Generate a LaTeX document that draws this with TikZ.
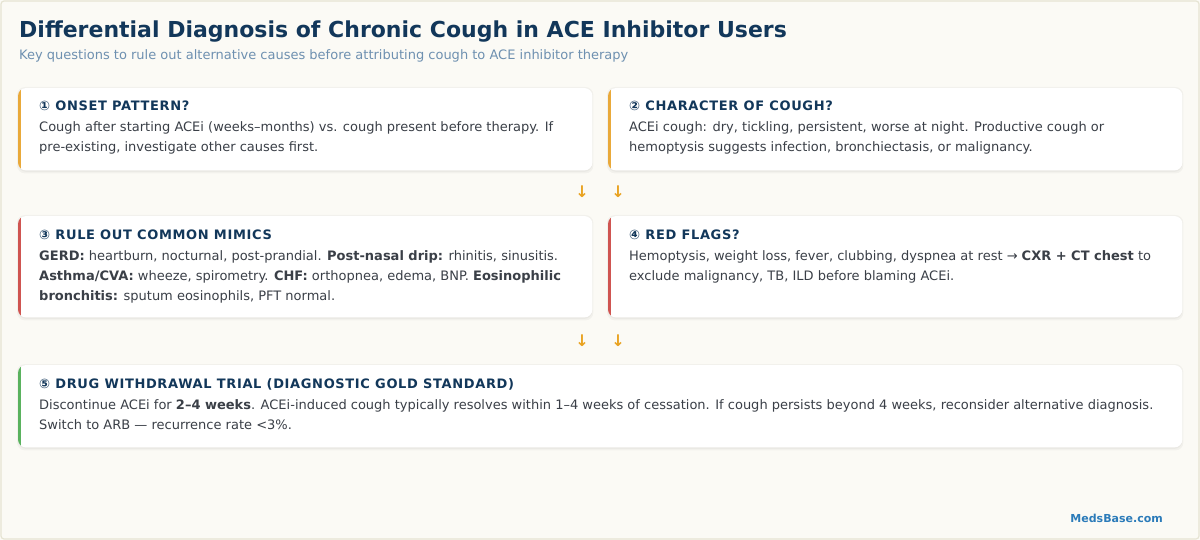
\documentclass[tikz,border=0pt]{standalone}
\usepackage{fontspec}
\setmainfont{DejaVu Sans}
\newfontfamily\hdrfont[LetterSpace=5]{DejaVu Sans}
\definecolor{bgc}{HTML}{FBFAF5}
\definecolor{framec}{HTML}{E6E4D3}
\definecolor{titlec}{HTML}{12375A}
\definecolor{subc}{HTML}{6E90B0}
\definecolor{bodyc}{HTML}{3A3F47}
\definecolor{orangec}{HTML}{E9A93A}
\definecolor{redc}{HTML}{CF5551}
\definecolor{greenc}{HTML}{5AB25E}
\definecolor{arrowc}{HTML}{E9A21F}
\definecolor{footc}{HTML}{2B7BB9}
\newcommand{\mkcard}[2]{%
  \fill[black,opacity=0.035,rounded corners=8pt] ([xshift=-1pt,yshift=1pt]#1.north west) rectangle ([xshift=1pt,yshift=-3pt]#1.south east);
  \fill[black,opacity=0.03,rounded corners=8pt] ([yshift=0pt]#1.north west) rectangle ([yshift=-1.5pt]#1.south east);
  \fill[white,rounded corners=8pt] (#1.north west) rectangle (#1.south east);
  \begin{scope}
    \clip[rounded corners=8pt] (#1.north west) rectangle (#1.south east);
    \fill[#2] (#1.north west) rectangle ([xshift=3pt]#1.south west);
  \end{scope}}
\begin{document}
\begin{tikzpicture}[x=1pt,y=-1pt,
  box/.style={draw=none,inner sep=0pt,anchor=north west,rectangle},
  hdr/.style={anchor=base west,inner sep=0pt,text=titlec,font=\hdrfont\bfseries\fontsize{13}{16}\selectfont},
  bodyl/.style={anchor=base west,inner sep=0pt,text=bodyc,font=\fontsize{13}{16}\selectfont},
  dnarrow/.style={inner sep=0pt,text=arrowc,font=\bfseries\fontsize{16}{18}\selectfont}]
\useasboundingbox (0,0) rectangle (1200,540);
\fill[bgc] (0,0) rectangle (1200,540);
\draw[framec,line width=1.2pt,rounded corners=3pt] (1,1) rectangle (1199,539);

% title
\node[anchor=base west,inner sep=0pt,text=titlec,font=\bfseries\fontsize{22}{26}\selectfont] (title) at (19,38) {Differential Diagnosis of Chronic Cough in ACE Inhibitor Users};
\node[anchor=base west,inner sep=0pt,text=subc,font=\fontsize{13}{16}\selectfont] (sub) at (19,60) {Key questions to rule out alternative causes before attributing cough to ACE inhibitor therapy};

% cards
\path node[box,minimum width=574pt,minimum height=82pt] (c1) at (18,88) {};
\path node[box,minimum width=574pt,minimum height=82pt] (c2) at (608,88) {};
\path node[box,minimum width=574pt,minimum height=101pt] (c3) at (18,216) {};
\path node[box,minimum width=574pt,minimum height=101pt] (c4) at (608,216) {};
\path node[box,minimum width=1164pt,minimum height=82pt] (c5) at (18,365) {};
\mkcard{c1}{orangec}
\mkcard{c2}{orangec}
\mkcard{c3}{redc}
\mkcard{c4}{redc}
\mkcard{c5}{greenc}

% card 1
\node[hdr] (h1) at ([xshift=21pt,yshift=-22.5pt]c1.north west) {① ONSET PATTERN?};
\node[bodyl] (b1a) at ([xshift=21pt,yshift=-44pt]c1.north west) {Cough after starting ACEi (weeks–months) vs. cough present before therapy. If};
\node[bodyl] (b1b) at ([xshift=21pt,yshift=-64pt]c1.north west) {pre-existing, investigate other causes first.};

% card 2
\node[hdr] (h2) at ([xshift=21pt,yshift=-22.5pt]c2.north west) {② CHARACTER OF COUGH?};
\node[bodyl] (b2a) at ([xshift=21pt,yshift=-44pt]c2.north west) {ACEi cough: dry, tickling, persistent, worse at night. Productive cough or};
\node[bodyl] (b2b) at ([xshift=21pt,yshift=-64pt]c2.north west) {hemoptysis suggests infection, bronchiectasis, or malignancy.};

% card 3
\node[hdr] (h3) at ([xshift=21pt,yshift=-23.5pt]c3.north west) {③ RULE OUT COMMON MIMICS};
\node[bodyl] (b3a) at ([xshift=21pt,yshift=-45pt]c3.north west) {\textbf{GERD:} heartburn, nocturnal, post-prandial. \textbf{Post-nasal drip:} rhinitis, sinusitis.};
\node[bodyl] (b3b) at ([xshift=21pt,yshift=-64.5pt]c3.north west) {\textbf{Asthma/CVA:} wheeze, spirometry. \textbf{CHF:} orthopnea, edema, BNP. \textbf{Eosinophilic}};
\node[bodyl] (b3c) at ([xshift=21pt,yshift=-84pt]c3.north west) {\textbf{bronchitis:} sputum eosinophils, PFT normal.};

% card 4
\node[hdr] (h4) at ([xshift=21pt,yshift=-23.5pt]c4.north west) {④ RED FLAGS?};
\node[bodyl] (b4a) at ([xshift=21pt,yshift=-45pt]c4.north west) {Hemoptysis, weight loss, fever, clubbing, dyspnea at rest → \textbf{CXR + CT chest} to};
\node[bodyl] (b4b) at ([xshift=21pt,yshift=-64.5pt]c4.north west) {exclude malignancy, TB, ILD before blaming ACEi.};

% card 5
\node[hdr] (h5) at ([xshift=21pt,yshift=-23pt]c5.north west) {⑤ DRUG WITHDRAWAL TRIAL (DIAGNOSTIC GOLD STANDARD)};
\node[bodyl] (b5a) at ([xshift=21pt,yshift=-44pt]c5.north west) {Discontinue ACEi for \textbf{2–4 weeks}. ACEi-induced cough typically resolves within 1–4 weeks of cessation. If cough persists beyond 4 weeks, reconsider alternative diagnosis.};
\node[bodyl] (b5b) at ([xshift=21pt,yshift=-64pt]c5.north west) {Switch to ARB — recurrence rate <3\%.};

% arrows
\node[dnarrow] (a1) at (582,192) {↓};
\node[dnarrow] (a2) at (618,192) {↓};
\node[dnarrow] (a3) at (582,341) {↓};
\node[dnarrow] (a4) at (618,341) {↓};

% footer
\node[anchor=base east,inner sep=0pt,text=footc,font=\bfseries\fontsize{11}{13}\selectfont] (foot) at (1163,522) {MedsBase.com};
\end{tikzpicture}
\end{document}
